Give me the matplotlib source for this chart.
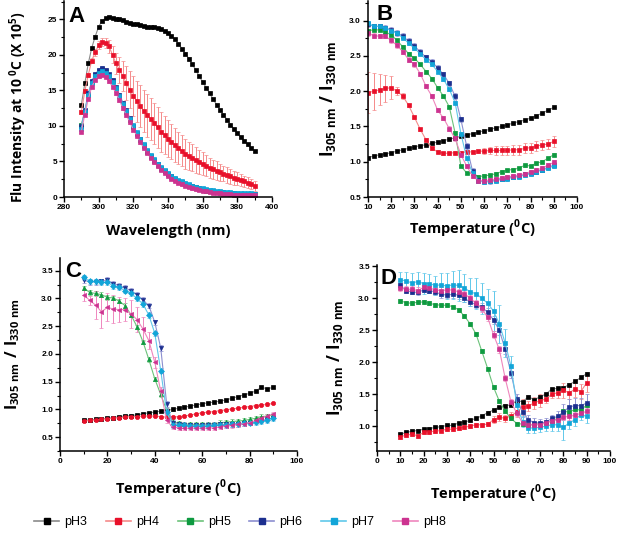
import numpy as np
import matplotlib
matplotlib.use('Agg')
import matplotlib.pyplot as plt
from matplotlib.ticker import MultipleLocator, FormatStrFormatter
from matplotlib.lines import Line2D

plt.rcParams['font.family'] = ['Liberation Sans', 'DejaVu Sans']
plt.rcParams['mathtext.fontset'] = 'custom'
plt.rcParams['mathtext.rm'] = 'Open Sans'
plt.rcParams['mathtext.bf'] = 'Open Sans:bold'

labels = ['pH3', 'pH4', 'pH5', 'pH6', 'pH7', 'pH8']
dark = ['#000000', '#e8102a', '#0e9a40', '#1c2f8f', '#12a5d8', '#cc3390']
light = ['#8a8a8a', '#f58a8a', '#6cc27a', '#8c8fd0', '#60c8ea', '#ef86bd']

# ---- panel A: emission spectra at 10 C ----
wl = np.arange(290, 391, 2)
a_ph3 = [13.0, 16.0, 18.8, 21.0, 22.6, 24.0, 24.8, 25.2, 25.3, 25.2, 25.1, 25.0, 24.9, 24.7, 24.5, 24.4,
         24.3, 24.2, 24.1, 24.0, 24.0, 23.9, 23.8, 23.6, 23.4, 23.1, 22.7, 22.2, 21.6, 20.9, 20.2, 19.5,
         18.7, 17.9, 17.0, 16.2, 15.4, 14.6, 13.8, 13.0, 12.3, 11.6, 10.9, 10.2, 9.6, 9.0, 8.4, 7.9,
         7.4, 6.9, 6.5]
a_ph4 = [12.0, 14.9, 17.2, 19.2, 20.4, 21.4, 21.8, 21.7, 21.2, 20.0, 18.8, 17.9, 17.0, 16.0, 15.1, 14.2,
         13.5, 12.8, 12.1, 11.5, 11.0, 10.4, 9.8, 9.2, 8.7, 8.2, 7.8, 7.3, 6.9, 6.5, 6.1, 5.8,
         5.5, 5.2, 4.9, 4.7, 4.4, 4.1, 3.9, 3.7, 3.5, 3.3, 3.1, 2.9, 2.7, 2.6, 2.4, 2.2,
         2.0, 1.8, 1.6]
a_ph4_err = [0.3, 0.3, 0.3, 0.4, 0.5, 0.6, 0.6, 0.7, 0.9, 1.2, 1.5, 1.8, 2.1, 2.4, 2.6, 2.8,
             2.9, 3.0, 3.0, 3.0, 3.0, 2.9, 2.9, 2.8, 2.7, 2.6, 2.5, 2.4, 2.3, 2.2, 2.1, 2.0,
             1.9, 1.8, 1.7, 1.6, 1.5, 1.4, 1.3, 1.3, 1.2, 1.1, 1.1, 1.0, 1.0, 0.9, 0.9, 0.8,
             0.8, 0.7, 0.7]
a_ph5 = [10.2, 12.0, 14.4, 16.2, 17.2, 17.8, 18.0, 17.7, 17.1, 16.3, 15.3, 14.2, 13.1, 12.0, 10.9, 9.9,
         8.9, 8.0, 7.2, 6.4, 5.7, 5.1, 4.5, 4.0, 3.6, 3.2, 2.8, 2.5, 2.2, 2.0, 1.8, 1.6,
         1.4, 1.25, 1.1, 1.0, 0.9, 0.8, 0.72, 0.66, 0.6, 0.56, 0.52, 0.48, 0.45, 0.42, 0.4, 0.38,
         0.36, 0.34, 0.32]
a_ph6 = [10.0, 12.2, 14.6, 16.3, 17.3, 17.9, 18.2, 17.9, 17.3, 16.5, 15.5, 14.4, 13.3, 12.2, 11.1, 10.0,
         9.0, 8.1, 7.3, 6.5, 5.8, 5.2, 4.6, 4.1, 3.7, 3.3, 2.9, 2.6, 2.3, 2.1, 1.9, 1.7,
         1.5, 1.35, 1.2, 1.1, 1.0, 0.9, 0.8, 0.75, 0.7, 0.65, 0.6, 0.55, 0.5, 0.48, 0.45, 0.42,
         0.4, 0.38, 0.36]
a_ph7 = [9.2, 11.6, 13.8, 15.5, 16.5, 17.0, 17.2, 16.9, 16.3, 15.5, 14.6, 13.6, 12.5, 11.5, 10.5, 9.5,
         8.6, 7.7, 6.9, 6.2, 5.5, 4.9, 4.3, 3.8, 3.4, 3.0, 2.6, 2.3, 2.0, 1.8, 1.6, 1.4,
         1.25, 1.1, 0.98, 0.88, 0.78, 0.7, 0.62, 0.56, 0.5, 0.46, 0.42, 0.38, 0.35, 0.32, 0.3, 0.28,
         0.26, 0.24, 0.22]
a_ph8 = [9.6, 12.0, 14.3, 16.0, 17.0, 17.5, 17.7, 17.5, 17.0, 16.2, 15.3, 14.2, 13.1, 12.1, 11.0, 10.1,
         9.1, 8.2, 7.4, 6.6, 5.9, 5.3, 4.7, 4.2, 3.8, 3.4, 3.0, 2.7, 2.4, 2.2, 2.0, 1.8,
         1.6, 1.45, 1.3, 1.2, 1.1, 1.0, 0.92, 0.85, 0.8, 0.74, 0.7, 0.66, 0.62, 0.6, 0.57, 0.55,
         0.52, 0.5, 0.48]

# ---- temperature scans (B, C, D share the same grid) ----
temp = np.arange(10, 90.1, 2.5)

b_ph3 = [1.06, 1.08, 1.10, 1.11, 1.13, 1.15, 1.17, 1.19, 1.21, 1.23, 1.24, 1.26, 1.28, 1.30, 1.32, 1.34,
         1.36, 1.38, 1.40, 1.42, 1.44, 1.46, 1.48, 1.50, 1.52, 1.55, 1.57, 1.59, 1.62, 1.65, 1.69, 1.73, 1.77]
b_ph4 = [1.98, 2.00, 2.02, 2.04, 2.05, 2.00, 1.93, 1.80, 1.63, 1.46, 1.31, 1.19, 1.14, 1.12, 1.12, 1.13,
         1.13, 1.14, 1.14, 1.15, 1.15, 1.16, 1.16, 1.16, 1.16, 1.17, 1.17, 1.19, 1.20, 1.22, 1.24, 1.25, 1.29]
b_ph4_err = [0.29, 0.26, 0.22, 0.19, 0.16, 0.06, 0.04, 0.02, 0.02, 0.02, 0.02, 0.02, 0.02, 0.02, 0.02, 0.02,
             0.02, 0.02, 0.02, 0.02, 0.04, 0.05, 0.06, 0.06, 0.07, 0.07, 0.07, 0.07, 0.07, 0.07, 0.07, 0.07, 0.08]
b_ph5 = [2.86, 2.87, 2.87, 2.84, 2.80, 2.72, 2.63, 2.53, 2.47, 2.38, 2.28, 2.18, 2.05, 1.93, 1.78, 1.41,
         0.94, 0.84, 0.84, 0.79, 0.80, 0.81, 0.83, 0.86, 0.88, 0.89, 0.91, 0.95, 0.94, 0.98, 1.00, 1.05, 1.10]
b_ph6 = [2.95, 2.92, 2.92, 2.90, 2.87, 2.83, 2.78, 2.71, 2.64, 2.56, 2.48, 2.42, 2.33, 2.24, 2.11, 1.93,
         1.60, 1.22, 0.87, 0.74, 0.72, 0.73, 0.74, 0.76, 0.77, 0.79, 0.80, 0.82, 0.84, 0.86, 0.89, 0.92, 0.95]
b_ph7 = [2.97, 2.92, 2.92, 2.90, 2.86, 2.82, 2.76, 2.68, 2.61, 2.53, 2.45, 2.38, 2.28, 2.17, 2.03, 1.84,
         1.40, 1.05, 0.84, 0.73, 0.71, 0.72, 0.73, 0.75, 0.76, 0.78, 0.79, 0.81, 0.83, 0.86, 0.88, 0.91, 0.94]
b_ph8 = [2.82, 2.79, 2.78, 2.78, 2.72, 2.65, 2.56, 2.45, 2.38, 2.25, 2.07, 1.93, 1.73, 1.62, 1.47, 1.33,
         1.10, 0.94, 0.80, 0.73, 0.73, 0.74, 0.75, 0.77, 0.78, 0.80, 0.81, 0.83, 0.86, 0.88, 0.91, 0.95, 0.99]

c_ph3 = [0.80, 0.81, 0.82, 0.83, 0.84, 0.85, 0.87, 0.88, 0.89, 0.90, 0.92, 0.94, 0.95, 0.97, 0.98, 1.00,
         1.02, 1.04, 1.06, 1.08, 1.10, 1.12, 1.13, 1.15, 1.17, 1.20, 1.23, 1.26, 1.29, 1.33, 1.40, 1.37, 1.40]
c_ph4 = [0.79, 0.80, 0.81, 0.82, 0.83, 0.84, 0.85, 0.86, 0.87, 0.87, 0.88, 0.88, 0.88, 0.87, 0.86, 0.86,
         0.87, 0.88, 0.90, 0.92, 0.94, 0.95, 0.96, 0.98, 0.99, 1.01, 1.02, 1.04, 1.05, 1.07, 1.08, 1.09, 1.11]
c_ph5 = [3.19, 3.11, 3.09, 3.07, 3.02, 3.01, 2.95, 2.87, 2.70, 2.49, 2.22, 1.90, 1.55, 1.27, 0.98, 0.78,
         0.75, 0.74, 0.73, 0.73, 0.73, 0.74, 0.74, 0.76, 0.77, 0.78, 0.79, 0.80, 0.82, 0.84, 0.87, 0.88, 0.90]
c_ph6 = [3.33, 3.30, 3.30, 3.31, 3.33, 3.27, 3.23, 3.19, 3.14, 3.07, 2.97, 2.87, 2.57, 2.11, 1.10, 0.75,
         0.73, 0.72, 0.71, 0.71, 0.71, 0.72, 0.72, 0.73, 0.73, 0.74, 0.74, 0.75, 0.76, 0.78, 0.80, 0.82, 0.85]
c_ph7 = [3.38, 3.31, 3.31, 3.29, 3.29, 3.23, 3.20, 3.14, 3.09, 3.00, 2.90, 2.70, 2.37, 1.70, 0.95, 0.72,
         0.72, 0.71, 0.70, 0.70, 0.70, 0.70, 0.71, 0.71, 0.72, 0.73, 0.74, 0.75, 0.76, 0.77, 0.79, 0.81, 0.84]
c_ph8 = [3.06, 2.97, 2.88, 2.76, 2.84, 2.81, 2.80, 2.80, 2.72, 2.62, 2.45, 2.24, 1.85, 1.33, 0.80, 0.68,
         0.67, 0.66, 0.66, 0.66, 0.66, 0.66, 0.67, 0.68, 0.70, 0.71, 0.73, 0.74, 0.76, 0.80, 0.84, 0.88, 0.92]
c_ph8_err = [0.10, 0.08, 0.25, 0.30, 0.25, 0.25, 0.22, 0.20, 0.25, 0.22, 0.22, 0.15, 0.10, 0.08, 0.04, 0.04,
             0.04, 0.04, 0.04, 0.04, 0.04, 0.04, 0.04, 0.04, 0.04, 0.04, 0.04, 0.04, 0.04, 0.04, 0.04, 0.04, 0.04]

d_ph3 = [0.87, 0.90, 0.92, 0.93, 0.95, 0.96, 0.98, 0.99, 1.01, 1.01, 1.05, 1.06, 1.09, 1.12, 1.16, 1.21,
         1.25, 1.30, 1.32, 1.33, 1.40, 1.38, 1.46, 1.41, 1.46, 1.50, 1.58, 1.59, 1.60, 1.65, 1.70, 1.76, 1.82]
d_ph4 = [0.83, 0.86, 0.87, 0.85, 0.90, 0.91, 0.92, 0.93, 0.95, 0.95, 0.97, 0.98, 1.00, 1.02, 1.02, 1.03,
         1.10, 1.14, 1.12, 1.16, 1.22, 1.30, 1.32, 1.36, 1.40, 1.42, 1.50, 1.52, 1.56, 1.52, 1.58, 1.54, 1.68]
d_ph4_err = [0.03, 0.03, 0.03, 0.03, 0.03, 0.03, 0.03, 0.03, 0.03, 0.03, 0.03, 0.03, 0.03, 0.03, 0.03, 0.03,
             0.05, 0.06, 0.06, 0.06, 0.08, 0.12, 0.08, 0.10, 0.10, 0.06, 0.06, 0.08, 0.12, 0.10, 0.12, 0.12, 0.14]
d_ph5 = [2.96, 2.93, 2.92, 2.94, 2.94, 2.92, 2.90, 2.89, 2.89, 2.87, 2.82, 2.72, 2.60, 2.44, 2.17, 1.90,
         1.61, 1.39, 1.23, 1.12, 1.04, 1.03, 1.02, 1.02, 1.04, 1.05, 1.08, 1.12, 1.23, 1.22, 1.26, 1.25, 1.33]
d_ph6 = [3.20, 3.12, 3.10, 3.09, 3.13, 3.12, 3.10, 3.06, 3.05, 3.06, 3.05, 3.00, 2.94, 2.90, 2.86, 2.78,
         2.66, 2.50, 2.20, 1.83, 1.42, 1.22, 1.10, 1.05, 1.05, 1.06, 1.12, 1.15, 1.22, 1.30, 1.32, 1.32, 1.36]
d_ph6_err = [0.04, 0.04, 0.04, 0.04, 0.04, 0.04, 0.05, 0.05, 0.05, 0.05, 0.06, 0.06, 0.06, 0.06, 0.06, 0.06,
             0.06, 0.08, 0.08, 0.08, 0.08, 0.08, 0.08, 0.08, 0.06, 0.06, 0.06, 0.08, 0.12, 0.12, 0.12, 0.12, 0.14]
d_ph7 = [3.29, 3.27, 3.24, 3.26, 3.23, 3.23, 3.20, 3.21, 3.19, 3.21, 3.20, 3.16, 3.10, 3.07, 3.00, 2.92,
         2.80, 2.60, 2.30, 1.94, 1.33, 1.07, 0.97, 0.97, 0.98, 1.00, 1.02, 1.02, 0.98, 1.05, 1.10, 1.18, 1.15]
d_ph7_err = [0.12, 0.14, 0.15, 0.15, 0.17, 0.15, 0.15, 0.18, 0.20, 0.22, 0.24, 0.22, 0.22, 0.24, 0.24, 0.22,
             0.32, 0.30, 0.22, 0.15, 0.12, 0.08, 0.08, 0.08, 0.08, 0.08, 0.10, 0.10, 0.20, 0.10, 0.10, 0.08, 0.10]
d_ph8 = [3.16, 3.14, 3.14, 3.12, 3.17, 3.16, 3.13, 3.12, 3.13, 3.13, 3.10, 3.07, 3.00, 2.92, 2.84, 2.70,
         2.43, 2.20, 1.75, 1.38, 1.20, 1.05, 1.02, 1.02, 1.02, 1.05, 1.08, 1.10, 1.14, 1.15, 1.17, 1.20, 1.23]


def draw(ax, x, series, errs, markers, ms):
    for i, (y, e) in enumerate(zip(series, errs)):
        ax.errorbar(x, y, yerr=e, color=light[i], lw=0.8, marker=markers[i], ms=ms,
                    mfc=dark[i], mec=dark[i], mew=0.5, ecolor=light[i], elinewidth=0.7,
                    capsize=1.6, capthick=0.7)


def style(ax, xlim, ylim, xmaj, xmin, ymaj, ymin, yfmt, letter, lx, ly,
          xlabel, ylabel, xl_y, yl_x, yl_y, ylabel_size):
    ax.set_xlim(*xlim)
    ax.set_ylim(*ylim)
    ax.xaxis.set_major_locator(MultipleLocator(xmaj))
    ax.xaxis.set_minor_locator(MultipleLocator(xmin))
    ax.yaxis.set_major_locator(MultipleLocator(ymaj))
    ax.yaxis.set_minor_locator(MultipleLocator(ymin))
    ax.yaxis.set_major_formatter(FormatStrFormatter(yfmt))
    for s in ['top', 'right']:
        ax.spines[s].set_visible(False)
    for s in ['left', 'bottom']:
        ax.spines[s].set_linewidth(1.1)
    ax.tick_params(which='major', length=3.5, width=1.0, labelsize=6, pad=1.5)
    ax.tick_params(which='minor', length=2, width=0.8)
    for t in ax.get_xticklabels() + ax.get_yticklabels():
        t.set_fontweight('bold')
    ax.text(lx, ly, letter, transform=ax.transAxes, ha='left', va='top',
            fontsize=16, fontweight='bold')
    ax.set_xlabel(xlabel, fontsize=10.5, fontweight='bold', family='Open Sans')
    ax.set_ylabel(ylabel, fontsize=ylabel_size, fontweight='bold', family='Open Sans')
    ax.xaxis.set_label_coords(0.5, xl_y)
    ax.yaxis.set_label_coords(yl_x, yl_y)


ratio_label = r'$\mathbf{I}_{\mathbf{305\ nm}}\ \mathbf{/}\ \mathbf{I}_{\mathbf{330\ nm}}$'
temp_label = r'Temperature ($^{\mathbf{0}}$C)'

fig = plt.figure(figsize=(6.25, 5.36), dpi=100)
W, H = 625.0, 536.0


def place(l, r, t, b):
    return fig.add_axes([l / W, 1 - b / H, (r - l) / W, (b - t) / H])


axA = place(64, 272, 1, 197)
axB = place(368, 577, 1, 197)
axC = place(60, 297, 258, 451)
axD = place(377, 610, 265, 451)

squares = ['s'] * 6
draw(axA, wl, [a_ph3, a_ph4, a_ph5, a_ph6, a_ph8, a_ph7],
     [0.15, a_ph4_err, 0.2, 0.2, 0.2, 0.2], squares, 2.6)
style(axA, (280, 400), (0, 27.6), 20, 10, 5, 2.5, '%d', 'A', 0.02, 0.975,
      'Wavelength (nm)', r'Flu Intensity at 10 $^{\mathbf{0}}$C (X 10$^{\mathbf{5}}$)',
      -0.14, -0.168, 0.46, 10)

draw(axB, temp, [b_ph3, b_ph4, b_ph5, b_ph6, b_ph7, b_ph8],
     [0.0, b_ph4_err, 0.02, 0.04, 0.02, 0.03], squares, 2.8)
style(axB, (10, 100), (0.5, 3.28), 10, 5, 0.5, 0.25, '%.1f', 'B', 0.043, 0.985,
      temp_label, ratio_label, -0.105, -0.144, 0.5, 12)

draw(axC, temp, [c_ph3, c_ph4, c_ph5, c_ph6, c_ph7, c_ph8],
     [0.02, 0.02, 0.04, 0.05, 0.05, c_ph8_err], ['s', 'o', '^', 'v', 'D', '<'], 3.0)
style(axC, (0, 100), (0.25, 3.73), 20, 10, 0.5, 0.25, '%.1f', 'C', 0.02, 0.985,
      temp_label, ratio_label, -0.138, -0.16, 0.5, 11.5)

draw(axD, temp, [d_ph3, d_ph4, d_ph5, d_ph6, d_ph7, d_ph8],
     [0.02, d_ph4_err, 0.03, d_ph6_err, d_ph7_err, 0.05], squares, 3.0)
style(axD, (0, 100), (0.61, 3.52), 10, 5, 0.5, 0.25, '%.1f', 'D', 0.013, 0.985,
      temp_label, ratio_label, -0.17, -0.137, 0.5, 12)

handles = [Line2D([], [], color=light[i], lw=1.2, marker='s', ms=4,
                  mfc=dark[i], mec=dark[i]) for i in range(6)]
fig.legend(handles, labels, loc='center', bbox_to_anchor=(0.384, 1 - 522 / H),
           ncol=6, frameon=False, fontsize=9, handlelength=2.0,
           columnspacing=1.5, handletextpad=0.4)

fig.savefig('out.png', dpi=100)
